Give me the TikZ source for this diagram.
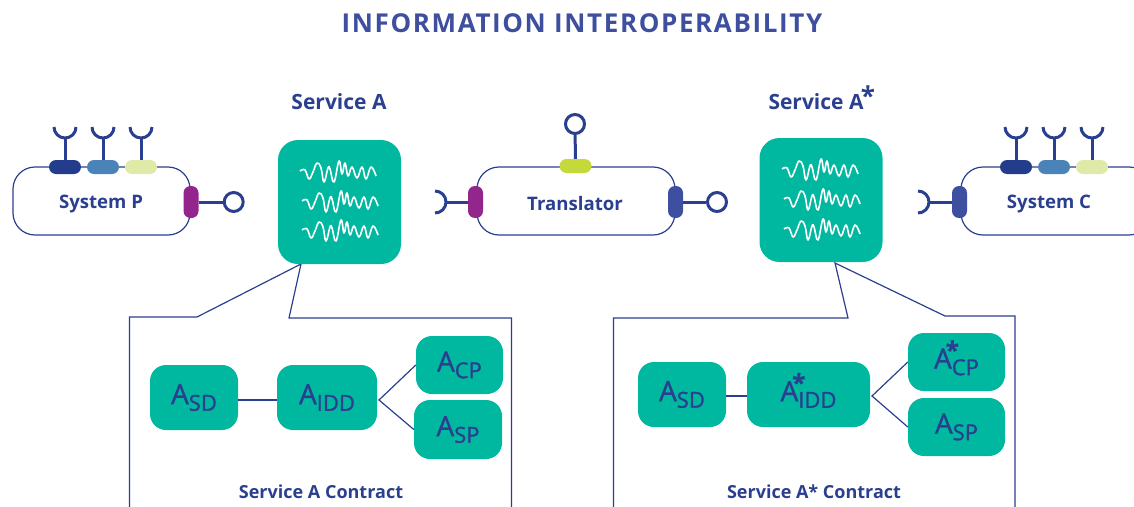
\documentclass[tikz,border=0pt]{standalone}
\usepackage{fontspec}
\usepackage{xcolor}
\usepackage{tikz}
\setmainfont{Open Sans}
\newfontfamily\titlefont[LetterSpace=6.2]{Open Sans}
\newfontfamily\partfont[FakeBold=1.2]{Open Sans}
\usetikzlibrary{shapes,positioning,calc}
\definecolor{navy}{RGB}{42,63,143}
\definecolor{teal}{RGB}{0,184,160}
\definecolor{indigo}{RGB}{63,79,160}
\definecolor{purple}{RGB}{146,38,140}
\definecolor{darkport}{RGB}{36,60,140}
\definecolor{steel}{RGB}{74,131,184}
\definecolor{pale}{RGB}{224,234,168}
\definecolor{lime}{RGB}{197,217,58}
\newcommand{\asub}[2]{\partfont{\fontsize{28}{28}\selectfont A}#1\raisebox{-6.5pt}{\fontsize{22}{22}\selectfont #2}}
\newcommand{\astar}{\raisebox{10pt}[0pt][0pt]{\makebox[0pt][l]{\kern-6pt\fontsize{24}{24}\selectfont\bfseries *}}}

\begin{document}
\begin{tikzpicture}[
    x=1pt, y=-1pt,
    system/.style={rectangle, draw=navy, fill=white, line width=1.2pt, rounded corners=22pt, minimum height=68pt},
    hport/.style={rectangle, fill=#1, rounded corners=7pt, minimum width=32pt, minimum height=14pt, inner sep=0pt},
    vport/.style={rectangle, fill=#1, rounded corners=7pt, minimum width=15pt, minimum height=32pt, inner sep=0pt},
    stem/.style={draw=navy, line width=3pt},
    endpoint/.style={circle, draw=navy, line width=3pt, fill=white, minimum size=19pt, inner sep=0pt},
    service/.style={rectangle, fill=teal, rounded corners=20pt, minimum width=123pt, minimum height=124pt},
    part/.style={rectangle, fill=teal, rounded corners=16pt, minimum height=#1, text=navy, inner sep=0pt},
    heading/.style={text=navy, font=\fontsize{21}{21}\selectfont\bfseries},
    caption/.style={text=navy, font=\fontsize{18}{18}\selectfont\bfseries},
    label/.style={text=navy, font=\fontsize{18.6}{18.6}\selectfont\bfseries},
    link/.style={draw=navy, line width=1.2pt},
    wave/.pic={\draw[white, line width=1.6pt, line join=round] plot[smooth, tension=0.7] coordinates {(0,-1) (5,-2) (9,7) (13,0) (17,-9) (21,-4) (24,10) (28,-4) (30,-3) (34,10) (39,-11) (42,2) (45,-9) (48,4) (52,-5) (57,6) (62,-5) (66,7) (71,-5) (76,4)};}
]
    \clip (0,0) rectangle (1134,506);

    \node[text=indigo, font=\fontsize{26}{26}\selectfont\bfseries\titlefont] (title) at (582,23) {INFORMATION INTEROPERABILITY};

    % contract frames
    \coordinate (tipA) at (301,264);
    \coordinate (tipB) at (835,263);
    \draw[link] (129.5,510) -- (129.5,317) -- (197,317) -- (tipA) -- (289,318) -- (511.5,318) -- (511.5,510);
    \draw[link] (613.5,510) -- (613.5,318) -- (848,318) -- (tipB) -- (945,316) -- (1015,316) -- (1015,510);

    % systems
    \node[system, minimum width=177pt] (sysP) at (101.5,201) {};
    \node[system, minimum width=198pt] (trans) at (576,201) {};
    \node[system, minimum width=190pt] (sysC) at (1056,201) {};
    \node[label] (sysPtext) at (101,204) {System P};
    \node[label] (transtext) at (575,204) {Translator};
    \node[label] (sysCtext) at (1049,204) {System C};

    % ports with sockets on top
    \foreach \n/\px/\c in {pa/65/darkport, pb/103/steel, pc/141/pale, ca/1016/darkport, cb/1054/steel, cc/1092/pale} {
        \node[hport=\c] (\n) at (\px,167) {};
        \coordinate (\n s) at (\px,138);
        \draw[stem] (\n s) -- (\n);
        \draw[stem] ($(\n s)+(-11,-11)$) arc[start angle=180, end angle=360, radius=11pt];
    }

    % side ports
    \node[vport=purple] (pout) at (191,202) {};
    \node[endpoint, right=24pt of pout] (poutend) {};
    \draw[stem] (pout) -- (poutend);

    \node[hport=lime] (tup) at (575.5,166) {};
    \node[endpoint] (tupend) at (575,124) {};
    \draw[stem] (tup) -- (tupend);

    \node[vport=purple] (tin) at (475.5,202) {};
    \coordinate (tins) at (446,202);
    \draw[stem] (tins) -- (tin);
    \node[vport=indigo] (tout) at (675.5,202) {};
    \node[endpoint] (toutend) at (717,202) {};
    \draw[stem] (tout) -- (toutend);

    \node[vport=indigo] (cin) at (959.5,202) {};
    \coordinate (cins) at (929,202);
    \draw[stem] (cins) -- (cin);

    \foreach \n in {tins, cins}
        \draw[stem] ($(\n)+(-11,-11)$) arc[start angle=90, end angle=-90, radius=11pt];

    % services
    \node[service] (svcA) at (339.5,202) {};
    \node[service] (svcB) at (821,200) {};
    \node[heading] (svcAname) at (339,102) {Service A};
    \node[heading] (svcBname) at (816,102) {Service A};
    \node[text=navy, font=\fontsize{26}{26}\selectfont\bfseries] (svcBstar) at (868,96) {*};
    \foreach \wx/\wy in {300/172, 302/202, 302/231, 782/170, 784/200, 784/230}
        \pic at (\wx,\wy) {wave};

    % contract A
    \node[part=65pt, minimum width=88pt] (asd) at (194,397.5) {\asub{}{SD}};
    \node[part=65pt, minimum width=100pt] (aidd) at (327,397.5) {\asub{}{IDD}};
    \node[part=58pt, minimum width=87pt] (acp) at (459.5,365) {\asub{}{CP}};
    \node[part=59pt, minimum width=88pt] (asp) at (458,429.5) {\asub{}{SP}};
    \coordinate (forkA) at (379,400);
    \draw[link] (asd.east |- forkA) -- (aidd.west |- forkA);
    \draw[link] (asp.west) -- (forkA) -- (acp.west);
    \node[caption] (conA) at (321,492) {Service A Contract};

    % contract A*
    \node[part=65pt, minimum width=88pt] (bsd) at (682,394.5) {\asub{}{SD}};
    \node[part=65pt, minimum width=123pt] (bidd) at (808.5,394.5) {\asub{\astar}{IDD}};
    \node[part=58pt, minimum width=97pt] (bcp) at (956.5,362) {\asub{\astar}{CP}};
    \node[part=58pt, minimum width=97pt] (bsp) at (956.5,427) {\asub{}{SP}};
    \coordinate (forkB) at (872,396);
    \draw[link] (bsd.east |- forkB) -- (bidd.west |- forkB);
    \draw[link] (bsp.west) -- (forkB) -- (bcp.west);
    \node[caption] (conB) at (814,492) {Service A* Contract};
\end{tikzpicture}
\end{document}
